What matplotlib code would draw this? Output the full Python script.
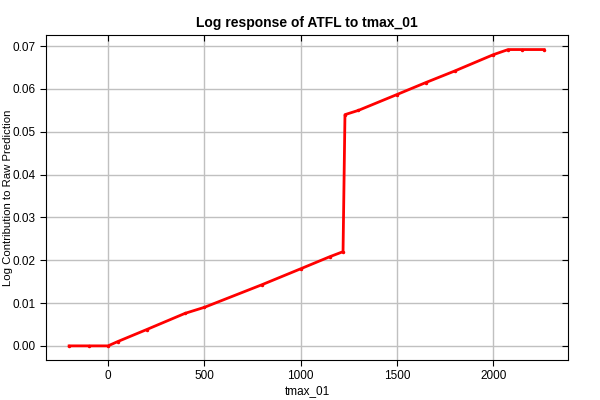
import matplotlib.pyplot as plt

plt.rcParams.update({"font.family": ["Liberation Sans", "DejaVu Sans"], "font.size": 8.5})

# response curve
tmax = [-202, -100, 0, 50, 200, 400, 500, 800, 1000, 1150, 1220,
        1230, 1300, 1500, 1650, 1800, 2000, 2077, 2150, 2264]
contrib = [0.0, 0.0, 0.0, 0.0010, 0.0038, 0.0076, 0.0090, 0.0143, 0.0180, 0.0208, 0.0220,
           0.0540, 0.0550, 0.0587, 0.0615, 0.0642, 0.0680, 0.0692, 0.0692, 0.0692]

xticks = [0, 500, 1000, 1500, 2000]
yticks = [0.00, 0.01, 0.02, 0.03, 0.04, 0.05, 0.06, 0.07]

fig = plt.figure(figsize=(6, 4), dpi=100)
ax = fig.add_axes([0.0767, 0.1, 0.87, 0.8125])

ax.plot(tmax, contrib, color="red", linewidth=2, marker="o", markersize=1.5)

ax.set_xlim(-322, 2388)
ax.set_ylim(-0.0033, 0.0726)
ax.set_xticks(xticks)
ax.set_yticks(yticks)
ax.set_yticklabels([f"{v:.2f}" for v in yticks])
ax.grid(True, color="#c0c0c0", linewidth=1)
ax.set_axisbelow(True)
ax.tick_params(direction="out", length=4.3, color="black", pad=3.0)
ax.tick_params(top=True, right=True)

# inward ticks on top and right edges
for t in ax.xaxis.get_major_ticks():
    t.tick2line.set_marker(3)
for t in ax.yaxis.get_major_ticks():
    t.tick2line.set_marker(0)

for s in ax.spines.values():
    s.set_color("black")

ax.set_title("Log response of ATFL to tmax_01", fontweight="bold", fontsize=10)
ax.set_xlabel("tmax_01")
ax.set_ylabel("Log Contribution to Raw Prediction", fontsize=8.2)
ax.yaxis.set_label_coords(-0.063, 0.5)
ax.xaxis.set_label_coords(0.5, -0.078)

fig.savefig("out.png", dpi=100)
